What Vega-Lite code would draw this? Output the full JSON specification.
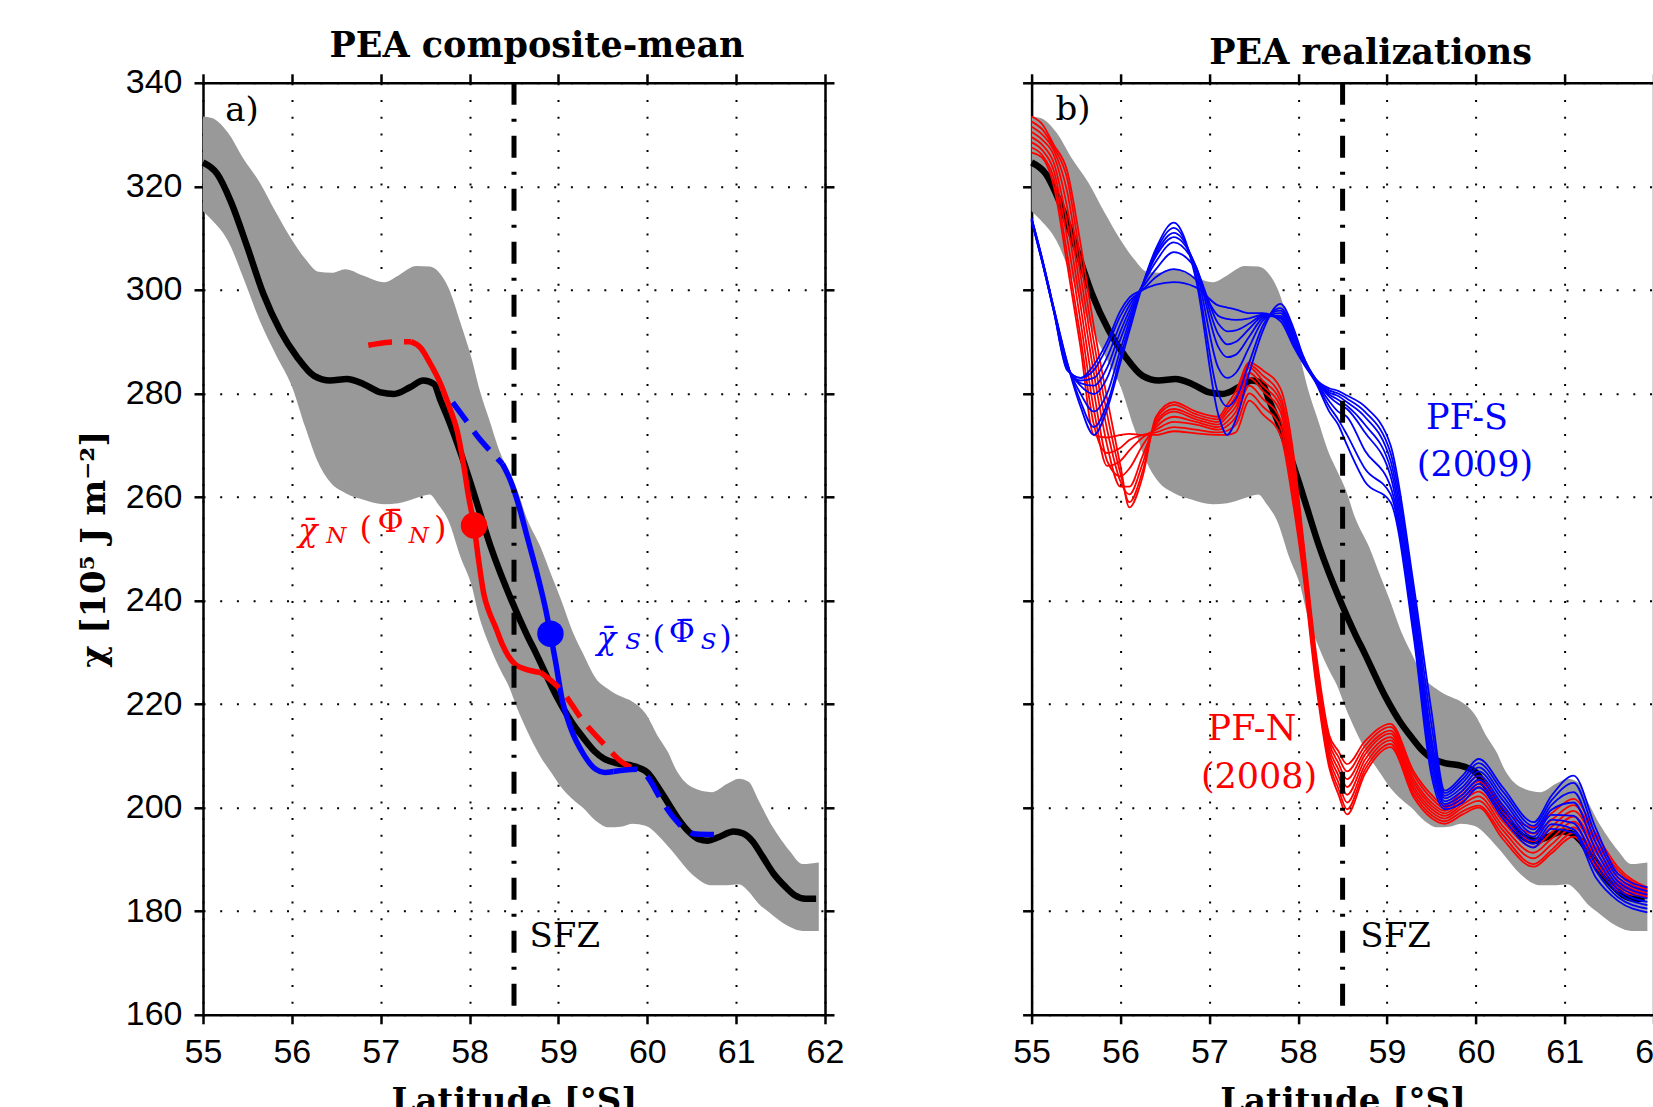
{
"$schema": "https://vega.github.io/schema/vega-lite/v6.json",
"background": "white",
"padding": {"left": 77, "top": 28.8, "right": 0, "bottom": 0},
"bounds": "flush",
"spacing": 206.6,
"config": {
  "view": {"stroke": null},
  "axis": {"labelFont": "Liberation Sans", "labelFontSize": 34, "labelColor": "black", "labelPadding": 12, "labelFlush": false, "labelOverlap": false, "labelBound": false,
           "tickSize": 9, "tickWidth": 2.5, "tickColor": "black", "domainColor": "black", "domainWidth": 2.5,
           "gridColor": "black", "gridWidth": 2, "gridDash": [2, 14.7], "gridOpacity": 1,
           "titleFont": "DejaVu Serif", "titleFontWeight": "bold", "titleFontSize": 34, "titleColor": "black", "zindex": 1},
  "title": {"font": "DejaVu Serif", "fontWeight": "bold", "fontSize": 35, "color": "black", "anchor": "middle", "offset": 2}
},
"datasets": {
"band": [
{"lat":55,"lo":315.2,"hi":333.5},{"lat":55.1,"lo":313.5,"hi":333.2},{"lat":55.28,"lo":309.5,"hi":330.4},{"lat":55.45,"lo":302.5,"hi":325.5},
{"lat":55.64,"lo":294,"hi":320.7},{"lat":55.82,"lo":287.5,"hi":315},{"lat":56,"lo":281.4,"hi":309.7},{"lat":56.15,"lo":273.5,"hi":306},
{"lat":56.3,"lo":266.5,"hi":303.5},{"lat":56.45,"lo":262.5,"hi":303.3},{"lat":56.6,"lo":260.8,"hi":304},{"lat":56.8,"lo":259.5,"hi":302.8},
{"lat":57.04,"lo":258.6,"hi":301.5},{"lat":57.2,"lo":258.8,"hi":302.8},{"lat":57.4,"lo":259.8,"hi":304.6},{"lat":57.55,"lo":260.5,"hi":304.5},
{"lat":57.65,"lo":258.5,"hi":303.5},{"lat":57.76,"lo":255.5,"hi":300.5},{"lat":57.9,"lo":248.3,"hi":293.5},{"lat":58.03,"lo":242.5,"hi":286.3},
{"lat":58.1,"lo":237.4,"hi":281.5},{"lat":58.22,"lo":231.5,"hi":275},{"lat":58.35,"lo":226.5,"hi":268.3},{"lat":58.44,"lo":223.5,"hi":265},
{"lat":58.54,"lo":219,"hi":261.2},{"lat":58.63,"lo":215.5,"hi":256.5},{"lat":58.8,"lo":209.8,"hi":250.3},{"lat":58.93,"lo":206.5,"hi":244.5},
{"lat":59.02,"lo":204.2,"hi":240.6},{"lat":59.17,"lo":201.5,"hi":233.6},{"lat":59.27,"lo":200.1,"hi":230},{"lat":59.42,"lo":197.5,"hi":225},
{"lat":59.57,"lo":196.2,"hi":222.8},{"lat":59.7,"lo":196.3,"hi":221.5},{"lat":59.83,"lo":196.9,"hi":220.5},{"lat":59.98,"lo":196.5,"hi":218.2},
{"lat":60.13,"lo":194.5,"hi":213.5},{"lat":60.24,"lo":192.4,"hi":210.5},{"lat":60.31,"lo":191,"hi":207.8},{"lat":60.5,"lo":187.2,"hi":204},
{"lat":60.73,"lo":185,"hi":203},{"lat":60.9,"lo":185,"hi":204.6},{"lat":61.03,"lo":185.2,"hi":205.6},{"lat":61.14,"lo":183.8,"hi":205},
{"lat":61.25,"lo":181.5,"hi":201.5},{"lat":61.37,"lo":179.8,"hi":197.5},{"lat":61.48,"lo":178.3,"hi":194.5},{"lat":61.6,"lo":177,"hi":191.7},
{"lat":61.75,"lo":176.2,"hi":189.1},{"lat":61.93,"lo":176.2,"hi":189.4}
],
"mean": [
{"lat":55,"chi":324.6},{"lat":55.16,"chi":322.4},{"lat":55.31,"chi":317.2},{"lat":55.5,"chi":308.2},{"lat":55.68,"chi":299.2},{"lat":55.87,"chi":292.1},
{"lat":56.06,"chi":287},{"lat":56.25,"chi":283.4},{"lat":56.43,"chi":282.5},{"lat":56.62,"chi":282.8},{"lat":56.81,"chi":281.8},{"lat":57,"chi":280.2},
{"lat":57.15,"chi":279.9},{"lat":57.33,"chi":281.2},{"lat":57.48,"chi":282.5},{"lat":57.6,"chi":281.8},{"lat":57.67,"chi":278.8},{"lat":57.75,"chi":275.5},{"lat":57.9,"chi":268.5},
{"lat":58.05,"chi":260.6},{"lat":58.24,"chi":250.3},{"lat":58.47,"chi":240.1},{"lat":58.65,"chi":233.2},{"lat":58.74,"chi":230.1},{"lat":58.98,"chi":221.5},{"lat":59.15,"chi":216.5},
{"lat":59.28,"chi":213.5},{"lat":59.4,"chi":211},{"lat":59.51,"chi":209.5},{"lat":59.65,"chi":208.6},{"lat":59.81,"chi":208.2},{"lat":59.92,"chi":207.6},
{"lat":60,"chi":206.8},{"lat":60.12,"chi":204},{"lat":60.23,"chi":201},{"lat":60.35,"chi":197.8},{"lat":60.47,"chi":195.3},{"lat":60.58,"chi":193.9},
{"lat":60.68,"chi":193.6},{"lat":60.8,"chi":194.3},{"lat":60.97,"chi":195.4},{"lat":61.08,"chi":195},{"lat":61.18,"chi":193.6},{"lat":61.3,"chi":190.5},
{"lat":61.42,"chi":187.3},{"lat":61.55,"chi":184.8},{"lat":61.66,"chi":183.1},{"lat":61.78,"chi":182.4},{"lat":61.9,"chi":182.4}
],
"composite": [
{"front":"N","part":"N_lead","lat":56.86,"chi":289.3},{"front":"N","part":"N_lead","lat":57.1,"chi":289.9},{"front":"N","part":"N_lead","lat":57.34,"chi":290},
{"front":"N","part":"N_core","lat":57.34,"chi":290},{"front":"N","part":"N_core","lat":57.45,"chi":288.8},{"front":"N","part":"N_core","lat":57.55,"chi":286},
{"front":"N","part":"N_core","lat":57.67,"chi":282},{"front":"N","part":"N_core","lat":57.77,"chi":277.5},{"front":"N","part":"N_core","lat":57.86,"chi":272.8},
{"front":"N","part":"N_core","lat":57.93,"chi":266.5},{"front":"N","part":"N_core","lat":57.99,"chi":260},{"front":"N","part":"N_core","lat":58.05,"chi":254.5},
{"front":"N","part":"N_core","lat":58.1,"chi":248},{"front":"N","part":"N_core","lat":58.16,"chi":241.3},{"front":"N","part":"N_core","lat":58.22,"chi":237.8},
{"front":"N","part":"N_core","lat":58.29,"chi":235},{"front":"N","part":"N_core","lat":58.37,"chi":231.5},{"front":"N","part":"N_core","lat":58.44,"chi":229.2},
{"front":"N","part":"N_core","lat":58.52,"chi":227.6},{"front":"N","part":"N_core","lat":58.62,"chi":226.8},{"front":"N","part":"N_core","lat":58.8,"chi":226.1},
{"front":"N","part":"N_tail","lat":58.8,"chi":226.1},{"front":"N","part":"N_tail","lat":59.04,"chi":222.5},{"front":"N","part":"N_tail","lat":59.28,"chi":216.7},
{"front":"N","part":"N_tail","lat":59.5,"chi":212.5},{"front":"N","part":"N_tail","lat":59.7,"chi":209},{"front":"N","part":"N_tail","lat":59.87,"chi":207.3},
{"front":"S","part":"S_lead","lat":57.81,"chi":278.3},{"front":"S","part":"S_lead","lat":57.96,"chi":274.8},{"front":"S","part":"S_lead","lat":58.1,"chi":271.5},
{"front":"S","part":"S_lead","lat":58.25,"chi":268.6},{"front":"S","part":"S_lead","lat":58.37,"chi":266.4},
{"front":"S","part":"S_core","lat":58.37,"chi":266.4},{"front":"S","part":"S_core","lat":58.46,"chi":263.2},{"front":"S","part":"S_core","lat":58.56,"chi":258},
{"front":"S","part":"S_core","lat":58.65,"chi":252.2},{"front":"S","part":"S_core","lat":58.76,"chi":245.2},{"front":"S","part":"S_core","lat":58.86,"chi":238},
{"front":"S","part":"S_core","lat":58.91,"chi":233.6},{"front":"S","part":"S_core","lat":58.97,"chi":228},{"front":"S","part":"S_core","lat":59.04,"chi":221},
{"front":"S","part":"S_core","lat":59.14,"chi":215.3},{"front":"S","part":"S_core","lat":59.28,"chi":210.4},{"front":"S","part":"S_core","lat":59.42,"chi":207.4},
{"front":"S","part":"S_core","lat":59.52,"chi":206.8},{"front":"S","part":"S_core","lat":59.62,"chi":207},
{"front":"S","part":"S_tail","lat":59.62,"chi":207},{"front":"S","part":"S_tail","lat":59.75,"chi":207.3},{"front":"S","part":"S_tail","lat":59.88,"chi":207.4},
{"front":"S","part":"S_tail","lat":60,"chi":206},{"front":"S","part":"S_tail","lat":60.14,"chi":202},{"front":"S","part":"S_tail","lat":60.31,"chi":197.8},
{"front":"S","part":"S_tail","lat":60.45,"chi":195.5},{"front":"S","part":"S_tail","lat":60.55,"chi":194.9},{"front":"S","part":"S_tail","lat":60.75,"chi":194.8}
],
"centroid": [
{"front":"N","lat":58.05,"chi":254.5},{"front":"S","lat":58.91,"chi":233.6}
],
"realizations": [
{"front":"N","run":1,"lat":55,"chi":326.5},{"front":"N","run":1,"lat":55.12,"chi":325.5},{"front":"N","run":1,"lat":55.25,"chi":320},{"front":"N","run":1,"lat":55.4,"chi":305},{"front":"N","run":1,"lat":55.55,"chi":289},{"front":"N","run":1,"lat":55.7,"chi":272},{"front":"N","run":1,"lat":55.85,"chi":271.5},{"front":"N","run":1,"lat":56,"chi":272},{"front":"N","run":1,"lat":56.1,"chi":272.2},{"front":"N","run":1,"lat":56.25,"chi":272},{"front":"N","run":1,"lat":56.4,"chi":272},{"front":"N","run":1,"lat":56.6,"chi":272.7},{"front":"N","run":1,"lat":56.85,"chi":272.3},{"front":"N","run":1,"lat":57.1,"chi":272},{"front":"N","run":1,"lat":57.2,"chi":272},{"front":"N","run":1,"lat":57.3,"chi":272.5},{"front":"N","run":1,"lat":57.45,"chi":278.6},{"front":"N","run":1,"lat":57.6,"chi":276},{"front":"N","run":1,"lat":57.8,"chi":272},{"front":"N","run":1,"lat":57.95,"chi":258},{"front":"N","run":1,"lat":58.05,"chi":246},{"front":"N","run":1,"lat":58.2,"chi":224},{"front":"N","run":1,"lat":58.35,"chi":207.7},{"front":"N","run":1,"lat":58.45,"chi":202.7},{"front":"N","run":1,"lat":58.55,"chi":198.7},{"front":"N","run":1,"lat":58.75,"chi":206.5},{"front":"N","run":1,"lat":59.04,"chi":211.7},{"front":"N","run":1,"lat":59.3,"chi":202},{"front":"N","run":1,"lat":59.5,"chi":198},{"front":"N","run":1,"lat":59.65,"chi":196.9},{"front":"N","run":1,"lat":59.85,"chi":198.7},{"front":"N","run":1,"lat":60.03,"chi":200},{"front":"N","run":1,"lat":60.3,"chi":194},{"front":"N","run":1,"lat":60.65,"chi":188.6},{"front":"N","run":1,"lat":60.85,"chi":191.2},{"front":"N","run":1,"lat":61.1,"chi":194.4},{"front":"N","run":1,"lat":61.35,"chi":188.6},{"front":"N","run":1,"lat":61.6,"chi":184},{"front":"N","run":1,"lat":61.93,"chi":182.7},
{"front":"N","run":2,"lat":55,"chi":327.5},{"front":"N","run":2,"lat":55.12,"chi":326},{"front":"N","run":2,"lat":55.25,"chi":321.5},{"front":"N","run":2,"lat":55.4,"chi":307},{"front":"N","run":2,"lat":55.55,"chi":291},{"front":"N","run":2,"lat":55.7,"chi":274},{"front":"N","run":2,"lat":55.85,"chi":268.5},{"front":"N","run":2,"lat":56,"chi":269.5},{"front":"N","run":2,"lat":56.1,"chi":271},{"front":"N","run":2,"lat":56.25,"chi":272},{"front":"N","run":2,"lat":56.4,"chi":272.5},{"front":"N","run":2,"lat":56.6,"chi":273.5},{"front":"N","run":2,"lat":56.85,"chi":273},{"front":"N","run":2,"lat":57.1,"chi":272.5},{"front":"N","run":2,"lat":57.2,"chi":272.8},{"front":"N","run":2,"lat":57.3,"chi":274},{"front":"N","run":2,"lat":57.45,"chi":280},{"front":"N","run":2,"lat":57.6,"chi":277.5},{"front":"N","run":2,"lat":57.8,"chi":273.5},{"front":"N","run":2,"lat":57.95,"chi":259.5},{"front":"N","run":2,"lat":58.05,"chi":247},{"front":"N","run":2,"lat":58.2,"chi":225},{"front":"N","run":2,"lat":58.35,"chi":208.5},{"front":"N","run":2,"lat":58.45,"chi":203.8},{"front":"N","run":2,"lat":58.55,"chi":199.7},{"front":"N","run":2,"lat":58.75,"chi":207.3},{"front":"N","run":2,"lat":59.04,"chi":212.3},{"front":"N","run":2,"lat":59.3,"chi":202.7},{"front":"N","run":2,"lat":59.5,"chi":198.6},{"front":"N","run":2,"lat":59.65,"chi":197.4},{"front":"N","run":2,"lat":59.85,"chi":199.3},{"front":"N","run":2,"lat":60.03,"chi":200.4},{"front":"N","run":2,"lat":60.3,"chi":194.8},{"front":"N","run":2,"lat":60.65,"chi":189.1},{"front":"N","run":2,"lat":60.85,"chi":191.8},{"front":"N","run":2,"lat":61.1,"chi":195.2},{"front":"N","run":2,"lat":61.35,"chi":189.5},{"front":"N","run":2,"lat":61.6,"chi":184.6},{"front":"N","run":2,"lat":61.93,"chi":183},
{"front":"N","run":3,"lat":55,"chi":328.5},{"front":"N","run":3,"lat":55.12,"chi":327},{"front":"N","run":3,"lat":55.25,"chi":323},{"front":"N","run":3,"lat":55.4,"chi":310},{"front":"N","run":3,"lat":55.55,"chi":294},{"front":"N","run":3,"lat":55.7,"chi":277},{"front":"N","run":3,"lat":55.85,"chi":266},{"front":"N","run":3,"lat":56,"chi":267},{"front":"N","run":3,"lat":56.1,"chi":269},{"front":"N","run":3,"lat":56.25,"chi":271.5},{"front":"N","run":3,"lat":56.4,"chi":273},{"front":"N","run":3,"lat":56.6,"chi":274.5},{"front":"N","run":3,"lat":56.85,"chi":274},{"front":"N","run":3,"lat":57.1,"chi":273},{"front":"N","run":3,"lat":57.2,"chi":273.7},{"front":"N","run":3,"lat":57.3,"chi":275.5},{"front":"N","run":3,"lat":57.45,"chi":281.5},{"front":"N","run":3,"lat":57.6,"chi":279},{"front":"N","run":3,"lat":57.8,"chi":275},{"front":"N","run":3,"lat":57.95,"chi":261},{"front":"N","run":3,"lat":58.05,"chi":248},{"front":"N","run":3,"lat":58.2,"chi":226},{"front":"N","run":3,"lat":58.35,"chi":209.5},{"front":"N","run":3,"lat":58.45,"chi":205},{"front":"N","run":3,"lat":58.55,"chi":201},{"front":"N","run":3,"lat":58.75,"chi":208.2},{"front":"N","run":3,"lat":59.04,"chi":213},{"front":"N","run":3,"lat":59.3,"chi":203.4},{"front":"N","run":3,"lat":59.5,"chi":199.2},{"front":"N","run":3,"lat":59.65,"chi":197.9},{"front":"N","run":3,"lat":59.85,"chi":200},{"front":"N","run":3,"lat":60.03,"chi":201.3},{"front":"N","run":3,"lat":60.3,"chi":195.7},{"front":"N","run":3,"lat":60.65,"chi":190.2},{"front":"N","run":3,"lat":60.85,"chi":192.9},{"front":"N","run":3,"lat":61.1,"chi":196.2},{"front":"N","run":3,"lat":61.35,"chi":190.4},{"front":"N","run":3,"lat":61.6,"chi":185.2},{"front":"N","run":3,"lat":61.93,"chi":183.2},
{"front":"N","run":4,"lat":55,"chi":329.5},{"front":"N","run":4,"lat":55.12,"chi":328},{"front":"N","run":4,"lat":55.25,"chi":324.5},{"front":"N","run":4,"lat":55.4,"chi":313},{"front":"N","run":4,"lat":55.55,"chi":297},{"front":"N","run":4,"lat":55.7,"chi":280.5},{"front":"N","run":4,"lat":55.85,"chi":267},{"front":"N","run":4,"lat":56,"chi":264},{"front":"N","run":4,"lat":56.1,"chi":265.5},{"front":"N","run":4,"lat":56.25,"chi":270},{"front":"N","run":4,"lat":56.4,"chi":273.5},{"front":"N","run":4,"lat":56.6,"chi":275.5},{"front":"N","run":4,"lat":56.85,"chi":274.5},{"front":"N","run":4,"lat":57.1,"chi":273.5},{"front":"N","run":4,"lat":57.2,"chi":274.5},{"front":"N","run":4,"lat":57.3,"chi":276.5},{"front":"N","run":4,"lat":57.45,"chi":283},{"front":"N","run":4,"lat":57.6,"chi":280.5},{"front":"N","run":4,"lat":57.8,"chi":276.5},{"front":"N","run":4,"lat":57.95,"chi":262.5},{"front":"N","run":4,"lat":58.05,"chi":249},{"front":"N","run":4,"lat":58.2,"chi":227},{"front":"N","run":4,"lat":58.35,"chi":210.5},{"front":"N","run":4,"lat":58.45,"chi":206.3},{"front":"N","run":4,"lat":58.55,"chi":202.5},{"front":"N","run":4,"lat":58.75,"chi":209.2},{"front":"N","run":4,"lat":59.04,"chi":213.6},{"front":"N","run":4,"lat":59.3,"chi":204.1},{"front":"N","run":4,"lat":59.5,"chi":199.8},{"front":"N","run":4,"lat":59.65,"chi":198.4},{"front":"N","run":4,"lat":59.85,"chi":200.6},{"front":"N","run":4,"lat":60.03,"chi":202.2},{"front":"N","run":4,"lat":60.3,"chi":196.5},{"front":"N","run":4,"lat":60.65,"chi":191.3},{"front":"N","run":4,"lat":60.85,"chi":194},{"front":"N","run":4,"lat":61.1,"chi":197.3},{"front":"N","run":4,"lat":61.35,"chi":191.4},{"front":"N","run":4,"lat":61.6,"chi":185.9},{"front":"N","run":4,"lat":61.93,"chi":183.5},
{"front":"N","run":5,"lat":55,"chi":330.5},{"front":"N","run":5,"lat":55.12,"chi":329},{"front":"N","run":5,"lat":55.25,"chi":326},{"front":"N","run":5,"lat":55.4,"chi":316},{"front":"N","run":5,"lat":55.55,"chi":300},{"front":"N","run":5,"lat":55.7,"chi":284},{"front":"N","run":5,"lat":55.85,"chi":270},{"front":"N","run":5,"lat":56,"chi":262},{"front":"N","run":5,"lat":56.1,"chi":262},{"front":"N","run":5,"lat":56.25,"chi":268},{"front":"N","run":5,"lat":56.4,"chi":274},{"front":"N","run":5,"lat":56.6,"chi":276.5},{"front":"N","run":5,"lat":56.85,"chi":275},{"front":"N","run":5,"lat":57.1,"chi":274},{"front":"N","run":5,"lat":57.2,"chi":275.5},{"front":"N","run":5,"lat":57.3,"chi":277.5},{"front":"N","run":5,"lat":57.45,"chi":284},{"front":"N","run":5,"lat":57.6,"chi":281.5},{"front":"N","run":5,"lat":57.8,"chi":277.5},{"front":"N","run":5,"lat":57.95,"chi":264},{"front":"N","run":5,"lat":58.05,"chi":250},{"front":"N","run":5,"lat":58.2,"chi":228},{"front":"N","run":5,"lat":58.35,"chi":211.5},{"front":"N","run":5,"lat":58.45,"chi":207.5},{"front":"N","run":5,"lat":58.55,"chi":204},{"front":"N","run":5,"lat":58.75,"chi":210.2},{"front":"N","run":5,"lat":59.04,"chi":214.3},{"front":"N","run":5,"lat":59.3,"chi":204.8},{"front":"N","run":5,"lat":59.5,"chi":200.4},{"front":"N","run":5,"lat":59.65,"chi":198.9},{"front":"N","run":5,"lat":59.85,"chi":201.3},{"front":"N","run":5,"lat":60.03,"chi":203.1},{"front":"N","run":5,"lat":60.3,"chi":197.4},{"front":"N","run":5,"lat":60.65,"chi":192.4},{"front":"N","run":5,"lat":60.85,"chi":195.2},{"front":"N","run":5,"lat":61.1,"chi":198.3},{"front":"N","run":5,"lat":61.35,"chi":192.3},{"front":"N","run":5,"lat":61.6,"chi":186.5},{"front":"N","run":5,"lat":61.93,"chi":183.8},
{"front":"N","run":6,"lat":55,"chi":331.5},{"front":"N","run":6,"lat":55.12,"chi":330},{"front":"N","run":6,"lat":55.25,"chi":327},{"front":"N","run":6,"lat":55.4,"chi":319},{"front":"N","run":6,"lat":55.55,"chi":303},{"front":"N","run":6,"lat":55.7,"chi":287},{"front":"N","run":6,"lat":55.85,"chi":273},{"front":"N","run":6,"lat":56,"chi":263},{"front":"N","run":6,"lat":56.1,"chi":260.5},{"front":"N","run":6,"lat":56.25,"chi":266.5},{"front":"N","run":6,"lat":56.4,"chi":274.5},{"front":"N","run":6,"lat":56.6,"chi":277},{"front":"N","run":6,"lat":56.85,"chi":275.5},{"front":"N","run":6,"lat":57.1,"chi":274.5},{"front":"N","run":6,"lat":57.2,"chi":276.3},{"front":"N","run":6,"lat":57.3,"chi":278.5},{"front":"N","run":6,"lat":57.45,"chi":285},{"front":"N","run":6,"lat":57.6,"chi":282.5},{"front":"N","run":6,"lat":57.8,"chi":278.5},{"front":"N","run":6,"lat":57.95,"chi":265},{"front":"N","run":6,"lat":58.05,"chi":251},{"front":"N","run":6,"lat":58.2,"chi":228.5},{"front":"N","run":6,"lat":58.35,"chi":212.5},{"front":"N","run":6,"lat":58.45,"chi":208.7},{"front":"N","run":6,"lat":58.55,"chi":205.5},{"front":"N","run":6,"lat":58.75,"chi":211},{"front":"N","run":6,"lat":59.04,"chi":214.9},{"front":"N","run":6,"lat":59.3,"chi":205.5},{"front":"N","run":6,"lat":59.5,"chi":201},{"front":"N","run":6,"lat":59.65,"chi":199.4},{"front":"N","run":6,"lat":59.85,"chi":201.9},{"front":"N","run":6,"lat":60.03,"chi":204},{"front":"N","run":6,"lat":60.3,"chi":198.2},{"front":"N","run":6,"lat":60.65,"chi":193.5},{"front":"N","run":6,"lat":60.85,"chi":196.3},{"front":"N","run":6,"lat":61.1,"chi":199.4},{"front":"N","run":6,"lat":61.35,"chi":193.2},{"front":"N","run":6,"lat":61.6,"chi":187.2},{"front":"N","run":6,"lat":61.93,"chi":184},
{"front":"N","run":7,"lat":55,"chi":332.5},{"front":"N","run":7,"lat":55.12,"chi":331},{"front":"N","run":7,"lat":55.25,"chi":327.5},{"front":"N","run":7,"lat":55.4,"chi":321.5},{"front":"N","run":7,"lat":55.55,"chi":306},{"front":"N","run":7,"lat":55.7,"chi":290},{"front":"N","run":7,"lat":55.85,"chi":276},{"front":"N","run":7,"lat":56,"chi":264.5},{"front":"N","run":7,"lat":56.1,"chi":259},{"front":"N","run":7,"lat":56.25,"chi":265},{"front":"N","run":7,"lat":56.4,"chi":275},{"front":"N","run":7,"lat":56.6,"chi":277.8},{"front":"N","run":7,"lat":56.85,"chi":276},{"front":"N","run":7,"lat":57.1,"chi":275},{"front":"N","run":7,"lat":57.2,"chi":277},{"front":"N","run":7,"lat":57.3,"chi":279.5},{"front":"N","run":7,"lat":57.45,"chi":285.5},{"front":"N","run":7,"lat":57.6,"chi":283.5},{"front":"N","run":7,"lat":57.8,"chi":279.5},{"front":"N","run":7,"lat":57.95,"chi":266.5},{"front":"N","run":7,"lat":58.05,"chi":252},{"front":"N","run":7,"lat":58.2,"chi":229},{"front":"N","run":7,"lat":58.35,"chi":213.3},{"front":"N","run":7,"lat":58.45,"chi":209.9},{"front":"N","run":7,"lat":58.55,"chi":207},{"front":"N","run":7,"lat":58.75,"chi":211.9},{"front":"N","run":7,"lat":59.04,"chi":215.6},{"front":"N","run":7,"lat":59.3,"chi":206.3},{"front":"N","run":7,"lat":59.5,"chi":201.8},{"front":"N","run":7,"lat":59.65,"chi":199.9},{"front":"N","run":7,"lat":59.85,"chi":202.6},{"front":"N","run":7,"lat":60.03,"chi":205.1},{"front":"N","run":7,"lat":60.3,"chi":199.1},{"front":"N","run":7,"lat":60.65,"chi":195},{"front":"N","run":7,"lat":60.85,"chi":197.6},{"front":"N","run":7,"lat":61.1,"chi":200.5},{"front":"N","run":7,"lat":61.35,"chi":194.1},{"front":"N","run":7,"lat":61.6,"chi":187.9},{"front":"N","run":7,"lat":61.93,"chi":184.3},
{"front":"N","run":8,"lat":55,"chi":333.5},{"front":"N","run":8,"lat":55.12,"chi":332},{"front":"N","run":8,"lat":55.25,"chi":328},{"front":"N","run":8,"lat":55.4,"chi":323},{"front":"N","run":8,"lat":55.55,"chi":309},{"front":"N","run":8,"lat":55.7,"chi":293},{"front":"N","run":8,"lat":55.85,"chi":279},{"front":"N","run":8,"lat":56,"chi":266},{"front":"N","run":8,"lat":56.1,"chi":258},{"front":"N","run":8,"lat":56.25,"chi":264},{"front":"N","run":8,"lat":56.4,"chi":275.5},{"front":"N","run":8,"lat":56.6,"chi":278.3},{"front":"N","run":8,"lat":56.85,"chi":276.5},{"front":"N","run":8,"lat":57.1,"chi":275.5},{"front":"N","run":8,"lat":57.2,"chi":277.8},{"front":"N","run":8,"lat":57.3,"chi":280.5},{"front":"N","run":8,"lat":57.45,"chi":286},{"front":"N","run":8,"lat":57.6,"chi":284.5},{"front":"N","run":8,"lat":57.8,"chi":281},{"front":"N","run":8,"lat":57.95,"chi":268},{"front":"N","run":8,"lat":58.05,"chi":253},{"front":"N","run":8,"lat":58.2,"chi":230},{"front":"N","run":8,"lat":58.35,"chi":214},{"front":"N","run":8,"lat":58.45,"chi":211},{"front":"N","run":8,"lat":58.55,"chi":208.4},{"front":"N","run":8,"lat":58.75,"chi":212.8},{"front":"N","run":8,"lat":59.04,"chi":216.2},{"front":"N","run":8,"lat":59.3,"chi":207},{"front":"N","run":8,"lat":59.5,"chi":202.5},{"front":"N","run":8,"lat":59.65,"chi":200.4},{"front":"N","run":8,"lat":59.85,"chi":203.3},{"front":"N","run":8,"lat":60.03,"chi":206.2},{"front":"N","run":8,"lat":60.3,"chi":200},{"front":"N","run":8,"lat":60.65,"chi":196.2},{"front":"N","run":8,"lat":60.85,"chi":198.9},{"front":"N","run":8,"lat":61.1,"chi":201.7},{"front":"N","run":8,"lat":61.35,"chi":195},{"front":"N","run":8,"lat":61.6,"chi":188.5},{"front":"N","run":8,"lat":61.93,"chi":184.6},
{"front":"S","run":1,"lat":55,"chi":313.9},{"front":"S","run":1,"lat":55.12,"chi":306},{"front":"S","run":1,"lat":55.25,"chi":296.5},{"front":"S","run":1,"lat":55.4,"chi":286},{"front":"S","run":1,"lat":55.55,"chi":277.5},{"front":"S","run":1,"lat":55.7,"chi":272},{"front":"S","run":1,"lat":55.85,"chi":277},{"front":"S","run":1,"lat":56,"chi":286},{"front":"S","run":1,"lat":56.1,"chi":292},{"front":"S","run":1,"lat":56.25,"chi":301},{"front":"S","run":1,"lat":56.4,"chi":308},{"front":"S","run":1,"lat":56.6,"chi":313},{"front":"S","run":1,"lat":56.85,"chi":302},{"front":"S","run":1,"lat":57.1,"chi":276},{"front":"S","run":1,"lat":57.2,"chi":272},{"front":"S","run":1,"lat":57.3,"chi":275},{"front":"S","run":1,"lat":57.45,"chi":284},{"front":"S","run":1,"lat":57.6,"chi":292},{"front":"S","run":1,"lat":57.8,"chi":297.3},{"front":"S","run":1,"lat":57.95,"chi":292.5},{"front":"S","run":1,"lat":58.05,"chi":287.5},{"front":"S","run":1,"lat":58.2,"chi":282.8},{"front":"S","run":1,"lat":58.35,"chi":281},{"front":"S","run":1,"lat":58.45,"chi":280.5},{"front":"S","run":1,"lat":58.55,"chi":279.6},{"front":"S","run":1,"lat":58.75,"chi":277.5},{"front":"S","run":1,"lat":59.04,"chi":270},{"front":"S","run":1,"lat":59.3,"chi":243},{"front":"S","run":1,"lat":59.5,"chi":218.7},{"front":"S","run":1,"lat":59.65,"chi":203.3},{"front":"S","run":1,"lat":59.85,"chi":206.2},{"front":"S","run":1,"lat":60.03,"chi":209.4},{"front":"S","run":1,"lat":60.3,"chi":204},{"front":"S","run":1,"lat":60.65,"chi":197.2},{"front":"S","run":1,"lat":60.85,"chi":202.3},{"front":"S","run":1,"lat":61.1,"chi":206.2},{"front":"S","run":1,"lat":61.35,"chi":196},{"front":"S","run":1,"lat":61.6,"chi":187.2},{"front":"S","run":1,"lat":61.93,"chi":184.6},
{"front":"S","run":2,"lat":55,"chi":313.8},{"front":"S","run":2,"lat":55.12,"chi":305.9},{"front":"S","run":2,"lat":55.25,"chi":296.4},{"front":"S","run":2,"lat":55.4,"chi":286},{"front":"S","run":2,"lat":55.55,"chi":278.5},{"front":"S","run":2,"lat":55.7,"chi":273.5},{"front":"S","run":2,"lat":55.85,"chi":278},{"front":"S","run":2,"lat":56,"chi":287},{"front":"S","run":2,"lat":56.1,"chi":293},{"front":"S","run":2,"lat":56.25,"chi":301},{"front":"S","run":2,"lat":56.4,"chi":307.5},{"front":"S","run":2,"lat":56.6,"chi":312},{"front":"S","run":2,"lat":56.85,"chi":303},{"front":"S","run":2,"lat":57.1,"chi":280},{"front":"S","run":2,"lat":57.2,"chi":277.5},{"front":"S","run":2,"lat":57.3,"chi":279},{"front":"S","run":2,"lat":57.45,"chi":286},{"front":"S","run":2,"lat":57.6,"chi":293},{"front":"S","run":2,"lat":57.8,"chi":296.5},{"front":"S","run":2,"lat":57.95,"chi":292},{"front":"S","run":2,"lat":58.05,"chi":287.3},{"front":"S","run":2,"lat":58.2,"chi":282.7},{"front":"S","run":2,"lat":58.35,"chi":280.6},{"front":"S","run":2,"lat":58.45,"chi":280},{"front":"S","run":2,"lat":58.55,"chi":279},{"front":"S","run":2,"lat":58.75,"chi":276.5},{"front":"S","run":2,"lat":59.04,"chi":268.5},{"front":"S","run":2,"lat":59.3,"chi":241.5},{"front":"S","run":2,"lat":59.5,"chi":216},{"front":"S","run":2,"lat":59.65,"chi":202.8},{"front":"S","run":2,"lat":59.85,"chi":205.5},{"front":"S","run":2,"lat":60.03,"chi":208.6},{"front":"S","run":2,"lat":60.3,"chi":203.2},{"front":"S","run":2,"lat":60.65,"chi":196.5},{"front":"S","run":2,"lat":60.85,"chi":201.4},{"front":"S","run":2,"lat":61.1,"chi":204.8},{"front":"S","run":2,"lat":61.35,"chi":194.6},{"front":"S","run":2,"lat":61.6,"chi":186.5},{"front":"S","run":2,"lat":61.93,"chi":183.9},
{"front":"S","run":3,"lat":55,"chi":313.7},{"front":"S","run":3,"lat":55.12,"chi":305.8},{"front":"S","run":3,"lat":55.25,"chi":296.3},{"front":"S","run":3,"lat":55.4,"chi":285.7},{"front":"S","run":3,"lat":55.55,"chi":280},{"front":"S","run":3,"lat":55.7,"chi":276.5},{"front":"S","run":3,"lat":55.85,"chi":280},{"front":"S","run":3,"lat":56,"chi":288.5},{"front":"S","run":3,"lat":56.1,"chi":294},{"front":"S","run":3,"lat":56.25,"chi":301},{"front":"S","run":3,"lat":56.4,"chi":307},{"front":"S","run":3,"lat":56.6,"chi":311},{"front":"S","run":3,"lat":56.85,"chi":304},{"front":"S","run":3,"lat":57.1,"chi":285},{"front":"S","run":3,"lat":57.2,"chi":283},{"front":"S","run":3,"lat":57.3,"chi":284},{"front":"S","run":3,"lat":57.45,"chi":289},{"front":"S","run":3,"lat":57.6,"chi":294},{"front":"S","run":3,"lat":57.8,"chi":296},{"front":"S","run":3,"lat":57.95,"chi":291.5},{"front":"S","run":3,"lat":58.05,"chi":287.1},{"front":"S","run":3,"lat":58.2,"chi":282.6},{"front":"S","run":3,"lat":58.35,"chi":280.2},{"front":"S","run":3,"lat":58.45,"chi":279.5},{"front":"S","run":3,"lat":58.55,"chi":278.3},{"front":"S","run":3,"lat":58.75,"chi":275.5},{"front":"S","run":3,"lat":59.04,"chi":267},{"front":"S","run":3,"lat":59.3,"chi":240},{"front":"S","run":3,"lat":59.5,"chi":213.5},{"front":"S","run":3,"lat":59.65,"chi":202.3},{"front":"S","run":3,"lat":59.85,"chi":204.8},{"front":"S","run":3,"lat":60.03,"chi":207.8},{"front":"S","run":3,"lat":60.3,"chi":202.3},{"front":"S","run":3,"lat":60.65,"chi":195.8},{"front":"S","run":3,"lat":60.85,"chi":200.5},{"front":"S","run":3,"lat":61.1,"chi":203},{"front":"S","run":3,"lat":61.35,"chi":193.2},{"front":"S","run":3,"lat":61.6,"chi":185.7},{"front":"S","run":3,"lat":61.93,"chi":183.2},
{"front":"S","run":4,"lat":55,"chi":313.6},{"front":"S","run":4,"lat":55.12,"chi":305.7},{"front":"S","run":4,"lat":55.25,"chi":296.2},{"front":"S","run":4,"lat":55.4,"chi":285.5},{"front":"S","run":4,"lat":55.55,"chi":281.5},{"front":"S","run":4,"lat":55.7,"chi":279.9},{"front":"S","run":4,"lat":55.85,"chi":283},{"front":"S","run":4,"lat":56,"chi":290.5},{"front":"S","run":4,"lat":56.1,"chi":295},{"front":"S","run":4,"lat":56.25,"chi":301},{"front":"S","run":4,"lat":56.4,"chi":306.5},{"front":"S","run":4,"lat":56.6,"chi":310.2},{"front":"S","run":4,"lat":56.85,"chi":304.5},{"front":"S","run":4,"lat":57.1,"chi":289},{"front":"S","run":4,"lat":57.2,"chi":287},{"front":"S","run":4,"lat":57.3,"chi":287.5},{"front":"S","run":4,"lat":57.45,"chi":291},{"front":"S","run":4,"lat":57.6,"chi":294.5},{"front":"S","run":4,"lat":57.8,"chi":295.5},{"front":"S","run":4,"lat":57.95,"chi":291},{"front":"S","run":4,"lat":58.05,"chi":286.9},{"front":"S","run":4,"lat":58.2,"chi":282.5},{"front":"S","run":4,"lat":58.35,"chi":279.8},{"front":"S","run":4,"lat":58.45,"chi":278.8},{"front":"S","run":4,"lat":58.55,"chi":277.6},{"front":"S","run":4,"lat":58.75,"chi":274},{"front":"S","run":4,"lat":59.04,"chi":265.5},{"front":"S","run":4,"lat":59.3,"chi":238.5},{"front":"S","run":4,"lat":59.5,"chi":212},{"front":"S","run":4,"lat":59.65,"chi":201.8},{"front":"S","run":4,"lat":59.85,"chi":204},{"front":"S","run":4,"lat":60.03,"chi":207},{"front":"S","run":4,"lat":60.3,"chi":201.5},{"front":"S","run":4,"lat":60.65,"chi":195.1},{"front":"S","run":4,"lat":60.85,"chi":199.6},{"front":"S","run":4,"lat":61.1,"chi":201},{"front":"S","run":4,"lat":61.35,"chi":191.8},{"front":"S","run":4,"lat":61.6,"chi":185},{"front":"S","run":4,"lat":61.93,"chi":182.5},
{"front":"S","run":5,"lat":55,"chi":313.6},{"front":"S","run":5,"lat":55.12,"chi":305.6},{"front":"S","run":5,"lat":55.25,"chi":296.1},{"front":"S","run":5,"lat":55.4,"chi":285.2},{"front":"S","run":5,"lat":55.55,"chi":282},{"front":"S","run":5,"lat":55.7,"chi":281.5},{"front":"S","run":5,"lat":55.85,"chi":285},{"front":"S","run":5,"lat":56,"chi":292},{"front":"S","run":5,"lat":56.1,"chi":296},{"front":"S","run":5,"lat":56.25,"chi":301},{"front":"S","run":5,"lat":56.4,"chi":305.5},{"front":"S","run":5,"lat":56.6,"chi":309.2},{"front":"S","run":5,"lat":56.85,"chi":304.5},{"front":"S","run":5,"lat":57.1,"chi":291.5},{"front":"S","run":5,"lat":57.2,"chi":289.5},{"front":"S","run":5,"lat":57.3,"chi":290},{"front":"S","run":5,"lat":57.45,"chi":292.5},{"front":"S","run":5,"lat":57.6,"chi":294.8},{"front":"S","run":5,"lat":57.8,"chi":295},{"front":"S","run":5,"lat":57.95,"chi":290.5},{"front":"S","run":5,"lat":58.05,"chi":286.7},{"front":"S","run":5,"lat":58.2,"chi":282.4},{"front":"S","run":5,"lat":58.35,"chi":279.4},{"front":"S","run":5,"lat":58.45,"chi":278},{"front":"S","run":5,"lat":58.55,"chi":277},{"front":"S","run":5,"lat":58.75,"chi":272.5},{"front":"S","run":5,"lat":59.04,"chi":264},{"front":"S","run":5,"lat":59.3,"chi":237},{"front":"S","run":5,"lat":59.5,"chi":210.5},{"front":"S","run":5,"lat":59.65,"chi":201.2},{"front":"S","run":5,"lat":59.85,"chi":203.3},{"front":"S","run":5,"lat":60.03,"chi":206.2},{"front":"S","run":5,"lat":60.3,"chi":200.6},{"front":"S","run":5,"lat":60.65,"chi":194.4},{"front":"S","run":5,"lat":60.85,"chi":198.6},{"front":"S","run":5,"lat":61.1,"chi":198.4},{"front":"S","run":5,"lat":61.35,"chi":190.5},{"front":"S","run":5,"lat":61.6,"chi":184.2},{"front":"S","run":5,"lat":61.93,"chi":181.8},
{"front":"S","run":6,"lat":55,"chi":313.5},{"front":"S","run":6,"lat":55.12,"chi":305.5},{"front":"S","run":6,"lat":55.25,"chi":296},{"front":"S","run":6,"lat":55.4,"chi":285},{"front":"S","run":6,"lat":55.55,"chi":282.5},{"front":"S","run":6,"lat":55.7,"chi":283},{"front":"S","run":6,"lat":55.85,"chi":287},{"front":"S","run":6,"lat":56,"chi":293.5},{"front":"S","run":6,"lat":56.1,"chi":297},{"front":"S","run":6,"lat":56.25,"chi":300.5},{"front":"S","run":6,"lat":56.4,"chi":304},{"front":"S","run":6,"lat":56.6,"chi":307.3},{"front":"S","run":6,"lat":56.85,"chi":304},{"front":"S","run":6,"lat":57.1,"chi":293.5},{"front":"S","run":6,"lat":57.2,"chi":292},{"front":"S","run":6,"lat":57.3,"chi":292.2},{"front":"S","run":6,"lat":57.45,"chi":293.5},{"front":"S","run":6,"lat":57.6,"chi":295},{"front":"S","run":6,"lat":57.8,"chi":294.7},{"front":"S","run":6,"lat":57.95,"chi":290},{"front":"S","run":6,"lat":58.05,"chi":286.5},{"front":"S","run":6,"lat":58.2,"chi":282.3},{"front":"S","run":6,"lat":58.35,"chi":278.5},{"front":"S","run":6,"lat":58.45,"chi":276.5},{"front":"S","run":6,"lat":58.55,"chi":275.5},{"front":"S","run":6,"lat":58.75,"chi":269},{"front":"S","run":6,"lat":59.04,"chi":262},{"front":"S","run":6,"lat":59.3,"chi":235.5},{"front":"S","run":6,"lat":59.5,"chi":209},{"front":"S","run":6,"lat":59.65,"chi":200.7},{"front":"S","run":6,"lat":59.85,"chi":202.5},{"front":"S","run":6,"lat":60.03,"chi":205.4},{"front":"S","run":6,"lat":60.3,"chi":199.8},{"front":"S","run":6,"lat":60.65,"chi":193.7},{"front":"S","run":6,"lat":60.85,"chi":197.7},{"front":"S","run":6,"lat":61.1,"chi":197},{"front":"S","run":6,"lat":61.35,"chi":189.1},{"front":"S","run":6,"lat":61.6,"chi":183.5},{"front":"S","run":6,"lat":61.93,"chi":181.2},
{"front":"S","run":7,"lat":55,"chi":313.4},{"front":"S","run":7,"lat":55.12,"chi":305.4},{"front":"S","run":7,"lat":55.25,"chi":295.9},{"front":"S","run":7,"lat":55.4,"chi":284.7},{"front":"S","run":7,"lat":55.55,"chi":283},{"front":"S","run":7,"lat":55.7,"chi":284.5},{"front":"S","run":7,"lat":55.85,"chi":289},{"front":"S","run":7,"lat":56,"chi":295},{"front":"S","run":7,"lat":56.1,"chi":297.8},{"front":"S","run":7,"lat":56.25,"chi":300},{"front":"S","run":7,"lat":56.4,"chi":302.5},{"front":"S","run":7,"lat":56.6,"chi":304},{"front":"S","run":7,"lat":56.85,"chi":302},{"front":"S","run":7,"lat":57.1,"chi":295},{"front":"S","run":7,"lat":57.2,"chi":294.4},{"front":"S","run":7,"lat":57.3,"chi":294.2},{"front":"S","run":7,"lat":57.45,"chi":294.5},{"front":"S","run":7,"lat":57.6,"chi":295.2},{"front":"S","run":7,"lat":57.8,"chi":294.5},{"front":"S","run":7,"lat":57.95,"chi":289.5},{"front":"S","run":7,"lat":58.05,"chi":286.3},{"front":"S","run":7,"lat":58.2,"chi":282.2},{"front":"S","run":7,"lat":58.35,"chi":277.5},{"front":"S","run":7,"lat":58.45,"chi":275},{"front":"S","run":7,"lat":58.55,"chi":272},{"front":"S","run":7,"lat":58.75,"chi":265.5},{"front":"S","run":7,"lat":59.04,"chi":260.5},{"front":"S","run":7,"lat":59.3,"chi":234},{"front":"S","run":7,"lat":59.5,"chi":207.5},{"front":"S","run":7,"lat":59.65,"chi":200.2},{"front":"S","run":7,"lat":59.85,"chi":201.8},{"front":"S","run":7,"lat":60.03,"chi":204.6},{"front":"S","run":7,"lat":60.3,"chi":198.9},{"front":"S","run":7,"lat":60.65,"chi":193},{"front":"S","run":7,"lat":60.85,"chi":196.8},{"front":"S","run":7,"lat":61.1,"chi":195.8},{"front":"S","run":7,"lat":61.35,"chi":187.8},{"front":"S","run":7,"lat":61.6,"chi":182.7},{"front":"S","run":7,"lat":61.93,"chi":180.5},
{"front":"S","run":8,"lat":55,"chi":313.3},{"front":"S","run":8,"lat":55.12,"chi":305.3},{"front":"S","run":8,"lat":55.25,"chi":295.8},{"front":"S","run":8,"lat":55.4,"chi":284.5},{"front":"S","run":8,"lat":55.55,"chi":283},{"front":"S","run":8,"lat":55.7,"chi":285.5},{"front":"S","run":8,"lat":55.85,"chi":290},{"front":"S","run":8,"lat":56,"chi":296},{"front":"S","run":8,"lat":56.1,"chi":298.5},{"front":"S","run":8,"lat":56.25,"chi":300},{"front":"S","run":8,"lat":56.4,"chi":301},{"front":"S","run":8,"lat":56.6,"chi":301.5},{"front":"S","run":8,"lat":56.85,"chi":300.5},{"front":"S","run":8,"lat":57.1,"chi":297},{"front":"S","run":8,"lat":57.2,"chi":296.6},{"front":"S","run":8,"lat":57.3,"chi":296.2},{"front":"S","run":8,"lat":57.45,"chi":295.5},{"front":"S","run":8,"lat":57.6,"chi":295.5},{"front":"S","run":8,"lat":57.8,"chi":294},{"front":"S","run":8,"lat":57.95,"chi":289},{"front":"S","run":8,"lat":58.05,"chi":286},{"front":"S","run":8,"lat":58.2,"chi":282},{"front":"S","run":8,"lat":58.35,"chi":276.5},{"front":"S","run":8,"lat":58.45,"chi":274},{"front":"S","run":8,"lat":58.55,"chi":270},{"front":"S","run":8,"lat":58.75,"chi":263},{"front":"S","run":8,"lat":59.04,"chi":259},{"front":"S","run":8,"lat":59.3,"chi":233},{"front":"S","run":8,"lat":59.5,"chi":206.2},{"front":"S","run":8,"lat":59.65,"chi":199.7},{"front":"S","run":8,"lat":59.85,"chi":201},{"front":"S","run":8,"lat":60.03,"chi":203.9},{"front":"S","run":8,"lat":60.3,"chi":198},{"front":"S","run":8,"lat":60.65,"chi":192.3},{"front":"S","run":8,"lat":60.85,"chi":195.9},{"front":"S","run":8,"lat":61.1,"chi":195.2},{"front":"S","run":8,"lat":61.35,"chi":186.5},{"front":"S","run":8,"lat":61.6,"chi":182},{"front":"S","run":8,"lat":61.93,"chi":179.8}
]
},
"hconcat": [
{
 "width": 622, "height": 932,
 "title": {"text": "PEA composite-mean", "dx": 23},
 "resolve": {"axis": {"x": "independent", "y": "independent"}},
 "layer": [
  {"data": {"name": "band"}, "mark": {"type": "area", "color": "#999999", "interpolate": "monotone"},
   "encoding": {
    "x": {"field": "lat", "type": "quantitative", "scale": {"domain": [55, 62], "nice": false, "zero": false},
          "axis": {"orient": "bottom", "values": [55,56,57,58,59,60,61,62], "format": "d", "grid": true, "title": "Latitude [°S]", "titlePadding": 15}},
    "y": {"field": "lo", "type": "quantitative", "scale": {"domain": [160, 340], "nice": false, "zero": false},
          "axis": {"orient": "left", "values": [160,180,200,220,240,260,280,300,320,340], "format": "d", "grid": true, "title": "χ [10⁵ J m⁻²]", "titlePadding": 14}},
    "y2": {"field": "hi"}}},
  {"data": {"name": "mean"}, "mark": {"type": "line", "color": "black", "strokeWidth": 6.5, "interpolate": "monotone"},
   "encoding": {
    "x": {"field": "lat", "type": "quantitative", "scale": {"domain": [55, 62], "nice": false, "zero": false},
          "axis": {"orient": "top", "values": [55,56,57,58,59,60,61,62], "grid": false, "labels": false, "title": null}},
    "y": {"field": "chi", "type": "quantitative", "scale": {"domain": [160, 340], "nice": false, "zero": false},
          "axis": {"orient": "right", "values": [160,180,200,220,240,260,280,300,320,340], "grid": false, "labels": false, "title": null}}}},
  {"data": {"name": "composite"}, "transform": [{"filter": "datum.part == 'N_core' || datum.part == 'S_core'"}],
   "mark": {"type": "line", "strokeWidth": 5.5, "interpolate": "monotone"},
   "encoding": {
    "x": {"field": "lat", "type": "quantitative", "scale": {"domain": [55, 62], "nice": false, "zero": false}, "axis": null},
    "y": {"field": "chi", "type": "quantitative", "scale": {"domain": [160, 340], "nice": false, "zero": false}, "axis": null},
    "color": {"field": "front", "type": "nominal", "scale": {"domain": ["N", "S"], "range": ["#ff0000", "#0000ff"]}, "legend": null},
    "detail": {"field": "part"}}},
  {"data": {"name": "composite"}, "transform": [{"filter": "datum.part != 'N_core' && datum.part != 'S_core'"}],
   "mark": {"type": "line", "strokeWidth": 5.5, "strokeDash": [24, 12], "interpolate": "monotone"},
   "encoding": {
    "x": {"field": "lat", "type": "quantitative", "scale": {"domain": [55, 62], "nice": false, "zero": false}, "axis": null},
    "y": {"field": "chi", "type": "quantitative", "scale": {"domain": [160, 340], "nice": false, "zero": false}, "axis": null},
    "color": {"field": "front", "type": "nominal", "scale": {"domain": ["N", "S"], "range": ["#ff0000", "#0000ff"]}, "legend": null},
    "detail": {"field": "part"}}},
  {"data": {"name": "centroid"}, "mark": {"type": "point", "filled": true, "opacity": 1, "size": 700},
   "encoding": {
    "x": {"field": "lat", "type": "quantitative", "scale": {"domain": [55, 62], "nice": false, "zero": false}, "axis": null},
    "y": {"field": "chi", "type": "quantitative", "scale": {"domain": [160, 340], "nice": false, "zero": false}, "axis": null},
    "color": {"field": "front", "type": "nominal", "scale": {"domain": ["N", "S"], "range": ["#ff0000", "#0000ff"]}, "legend": null}}},
  {"data": {"values": [{"lat": 58.5}]}, "mark": {"type": "rule", "color": "black", "strokeWidth": 5, "strokeDash": [22, 14, 3, 14]},
   "encoding": {"x": {"field": "lat", "type": "quantitative", "scale": {"domain": [55, 62], "nice": false, "zero": false}, "axis": null}}},
  {"data": {"values": [{"t": "a)", "lat": 55.25, "chi": 334.6}, {"t": "SFZ", "lat": 58.675, "chi": 175}]},
   "mark": {"type": "text", "font": "DejaVu Serif", "fontSize": 34, "align": "left", "baseline": "middle", "color": "black"},
   "encoding": {
    "x": {"field": "lat", "type": "quantitative", "scale": {"domain": [55, 62], "nice": false, "zero": false}, "axis": null},
    "y": {"field": "chi", "type": "quantitative", "scale": {"domain": [160, 340], "nice": false, "zero": false}, "axis": null},
    "text": {"field": "t"}}},
  {"data": {"values": [{"t": "χ̄", "front": "N", "lat": 56.18, "chi": 253.5}, {"t": "χ̄", "front": "S", "lat": 59.54, "chi": 232.6}]},
   "mark": {"type": "text", "font": "DejaVu Serif", "fontSize": 32, "fontStyle": "italic", "align": "center", "baseline": "middle"},
   "encoding": {
    "x": {"field": "lat", "type": "quantitative", "scale": {"domain": [55, 62], "nice": false, "zero": false}, "axis": null},
    "y": {"field": "chi", "type": "quantitative", "scale": {"domain": [160, 340], "nice": false, "zero": false}, "axis": null},
    "color": {"field": "front", "type": "nominal", "scale": {"domain": ["N", "S"], "range": ["#ff0000", "#0000ff"]}, "legend": null},
    "text": {"field": "t"}}},
  {"data": {"values": [{"t": "(", "front": "N", "lat": 56.83, "chi": 253.8}, {"t": "Φ̄", "front": "N", "lat": 57.11, "chi": 255.2}, {"t": ")", "front": "N", "lat": 57.67, "chi": 253.8},
                       {"t": "(", "front": "S", "lat": 60.13, "chi": 232.8}, {"t": "Φ̄", "front": "S", "lat": 60.39, "chi": 234}, {"t": ")", "front": "S", "lat": 60.88, "chi": 232.8}]},
   "mark": {"type": "text", "font": "DejaVu Serif", "fontSize": 32, "align": "center", "baseline": "middle"},
   "encoding": {
    "x": {"field": "lat", "type": "quantitative", "scale": {"domain": [55, 62], "nice": false, "zero": false}, "axis": null},
    "y": {"field": "chi", "type": "quantitative", "scale": {"domain": [160, 340], "nice": false, "zero": false}, "axis": null},
    "color": {"field": "front", "type": "nominal", "scale": {"domain": ["N", "S"], "range": ["#ff0000", "#0000ff"]}, "legend": null},
    "text": {"field": "t"}}},
  {"data": {"values": [{"t": "N", "front": "N", "lat": 56.5, "chi": 252.5}, {"t": "N", "front": "N", "lat": 57.43, "chi": 252.5},
                       {"t": "S", "front": "S", "lat": 59.84, "chi": 232}, {"t": "S", "front": "S", "lat": 60.69, "chi": 232}]},
   "mark": {"type": "text", "font": "DejaVu Serif", "fontSize": 23, "fontStyle": "italic", "align": "center", "baseline": "middle"},
   "encoding": {
    "x": {"field": "lat", "type": "quantitative", "scale": {"domain": [55, 62], "nice": false, "zero": false}, "axis": null},
    "y": {"field": "chi", "type": "quantitative", "scale": {"domain": [160, 340], "nice": false, "zero": false}, "axis": null},
    "color": {"field": "front", "type": "nominal", "scale": {"domain": ["N", "S"], "range": ["#ff0000", "#0000ff"]}, "legend": null},
    "text": {"field": "t"}}}
 ]
},
{
 "width": 622, "height": 932,
 "title": {"text": "PEA realizations", "dx": 28},
 "resolve": {"axis": {"x": "independent", "y": "independent"}},
 "layer": [
  {"data": {"name": "band"}, "mark": {"type": "area", "color": "#999999", "interpolate": "monotone"},
   "encoding": {
    "x": {"field": "lat", "type": "quantitative", "scale": {"domain": [55, 62], "nice": false, "zero": false},
          "axis": {"orient": "bottom", "values": [55,56,57,58,59,60,61,62], "format": "d", "grid": true, "title": "Latitude [°S]", "titlePadding": 15}},
    "y": {"field": "lo", "type": "quantitative", "scale": {"domain": [160, 340], "nice": false, "zero": false},
          "axis": {"orient": "left", "values": [160,180,200,220,240,260,280,300,320,340], "grid": true, "labels": false, "title": null}},
    "y2": {"field": "hi"}}},
  {"data": {"name": "mean"}, "mark": {"type": "line", "color": "black", "strokeWidth": 6.5, "interpolate": "monotone"},
   "encoding": {
    "x": {"field": "lat", "type": "quantitative", "scale": {"domain": [55, 62], "nice": false, "zero": false},
          "axis": {"orient": "top", "values": [55,56,57,58,59,60,61,62], "grid": false, "labels": false, "title": null}},
    "y": {"field": "chi", "type": "quantitative", "scale": {"domain": [160, 340], "nice": false, "zero": false},
          "axis": {"orient": "right", "values": [160,180,200,220,240,260,280,300,320,340], "grid": false, "labels": false, "title": null}}}},
  {"data": {"name": "realizations"}, "transform": [{"filter": "datum.front == 'N'"}],
   "mark": {"type": "line", "strokeWidth": 1.8, "interpolate": "monotone"},
   "encoding": {
    "x": {"field": "lat", "type": "quantitative", "scale": {"domain": [55, 62], "nice": false, "zero": false}, "axis": null},
    "y": {"field": "chi", "type": "quantitative", "scale": {"domain": [160, 340], "nice": false, "zero": false}, "axis": null},
    "color": {"field": "front", "type": "nominal", "scale": {"domain": ["N", "S"], "range": ["#ff0000", "#0000ff"]}, "legend": null},
    "detail": {"field": "run"}}},
  {"data": {"name": "realizations"}, "transform": [{"filter": "datum.front == 'S'"}],
   "mark": {"type": "line", "strokeWidth": 1.8, "interpolate": "monotone"},
   "encoding": {
    "x": {"field": "lat", "type": "quantitative", "scale": {"domain": [55, 62], "nice": false, "zero": false}, "axis": null},
    "y": {"field": "chi", "type": "quantitative", "scale": {"domain": [160, 340], "nice": false, "zero": false}, "axis": null},
    "color": {"field": "front", "type": "nominal", "scale": {"domain": ["N", "S"], "range": ["#ff0000", "#0000ff"]}, "legend": null},
    "detail": {"field": "run"}}},
  {"data": {"values": [{"lat": 58.5}]}, "mark": {"type": "rule", "color": "black", "strokeWidth": 5, "strokeDash": [22, 14, 3, 14]},
   "encoding": {"x": {"field": "lat", "type": "quantitative", "scale": {"domain": [55, 62], "nice": false, "zero": false}, "axis": null}}},
  {"data": {"values": [{"t": "b)", "lat": 55.27, "chi": 334.8}, {"t": "SFZ", "lat": 58.7, "chi": 175}]},
   "mark": {"type": "text", "font": "DejaVu Serif", "fontSize": 34, "align": "left", "baseline": "middle", "color": "black"},
   "encoding": {
    "x": {"field": "lat", "type": "quantitative", "scale": {"domain": [55, 62], "nice": false, "zero": false}, "axis": null},
    "y": {"field": "chi", "type": "quantitative", "scale": {"domain": [160, 340], "nice": false, "zero": false}, "axis": null},
    "text": {"field": "t"}}},
  {"data": {"values": [{"t": "PF-S", "front": "S", "lat": 59.9, "chi": 275.2}, {"t": "(2009)", "front": "S", "lat": 59.99, "chi": 266.1},
                       {"t": "PF-N", "front": "N", "lat": 57.48, "chi": 215.2}, {"t": "(2008)", "front": "N", "lat": 57.56, "chi": 205.9}]},
   "mark": {"type": "text", "font": "DejaVu Serif", "fontSize": 35, "align": "center", "baseline": "middle"},
   "encoding": {
    "x": {"field": "lat", "type": "quantitative", "scale": {"domain": [55, 62], "nice": false, "zero": false}, "axis": null},
    "y": {"field": "chi", "type": "quantitative", "scale": {"domain": [160, 340], "nice": false, "zero": false}, "axis": null},
    "color": {"field": "front", "type": "nominal", "scale": {"domain": ["N", "S"], "range": ["#ff0000", "#0000ff"]}, "legend": null},
    "text": {"field": "t"}}}
 ]
}
]
}
